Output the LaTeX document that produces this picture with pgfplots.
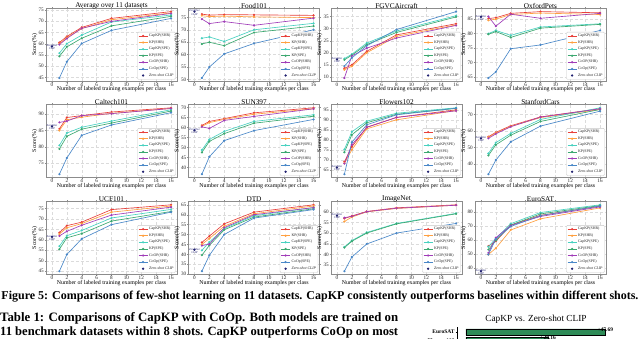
\documentclass[border=0pt]{standalone}
\usepackage{fontspec}
\setmainfont{Liberation Serif}
\usepackage{pgfplots}
\pgfplotsset{compat=1.18}
\usepackage{pgfplotstable}
\usepackage{graphicx}

\definecolor{c1}{HTML}{E8403A}
\definecolor{c2}{HTML}{FFA040}
\definecolor{c3}{HTML}{48D1C0}
\definecolor{c4}{HTML}{3CA870}
\definecolor{c5}{HTML}{A03CB8}
\definecolor{c6}{HTML}{4A88C8}
\definecolor{zsc}{HTML}{202070}
\definecolor{barg}{HTML}{2E8B57}

% x s1=CapKP(SHR) s2=KP(SHR) s3=CapKP(SPE) s4=KP(SPE) s5=CoOP(SHR) s6=CoOp(SPE)
\pgfplotstableread{
x s1 s2 s3 s4 s5 s6
1 60.5 60.0 55.8 54.4 59.6 44.8
2 63.2 62.7 60.0 58.6 62.3 52.0
4 67.2 66.7 63.8 62.4 66.8 60.1
8 71.2 70.6 69.6 67.9 69.9 65.9
16 74.2 73.6 72.7 72.1 73.4 71.2
}\tAvg
\pgfplotstableread{
x s1 s2 s3 s4 s5 s6
1 76.3 75.7 66.6 64.3 74.3 50.6
2 75.9 75.3 67.1 65.0 72.5 55.0
4 76.1 75.5 65.3 63.6 73.3 60.3
8 76.0 75.2 70.0 68.9 71.8 64.5
16 75.8 74.9 72.6 71.5 74.7 70.0
}\tFood
\pgfplotstableread{
x s1 s2 s3 s4 s5 s6
1 13.6 13.0 17.6 17.1 9.6 14.5
2 15.0 14.4 19.4 19.0 18.7 17.9
4 20.6 20.0 24.0 23.4 21.9 22.9
8 27.4 26.8 29.0 28.4 26.1 29.6
16 32.0 31.5 35.3 34.8 31.3 37.0
}\tAir
\pgfplotstableread{
x s1 s2 s3 s4 s5 s6
1 85.2 84.6 80.0 79.8 85.9 64.7
2 85.5 85.0 81.1 80.7 82.6 66.8
4 87.0 86.6 79.4 78.7 86.7 74.8
8 87.6 87.1 82.3 81.9 85.3 76.1
16 87.2 86.6 83.4 83.2 87.0 81.1
}\tPets
\pgfplotstableread{
x s1 s2 s3 s4 s5 s6
1 85.5 85.0 80.4 79.3 87.5 71.5
2 89.0 88.3 84.2 83.2 87.9 76.5
4 89.6 89.1 86.0 85.4 89.6 83.5
8 90.7 90.3 87.9 87.3 90.2 86.7
16 92.0 91.8 91.4 91.0 91.8 90.5
}\tCal
\pgfplotstableread{
x s1 s2 s3 s4 s5 s6
1 61.0 60.5 48.7 47.5 60.3 36.6
2 63.0 62.4 54.0 53.0 59.5 45.3
4 64.4 64.0 58.0 56.9 63.5 53.4
8 67.3 66.6 63.0 62.1 65.5 58.4
16 69.8 69.3 66.3 65.6 69.3 64.0
}\tSun
\pgfplotstableread{
x s1 s2 s3 s4 s5 s6
1 69.0 68.3 75.2 73.8 68.1 62.8
2 76.5 75.0 84.0 82.5 77.5 78.8
4 86.3 85.5 89.3 88.5 86.2 87.5
8 91.2 90.0 93.3 92.8 91.2 92.5
16 95.0 94.6 96.0 95.7 94.5 95.8
}\tFlo
\pgfplotstableread{
x s1 s2 s3 s4 s5 s6
1 56.6 56.2 46.5 45.3 55.6 34.0
2 59.2 58.7 53.0 51.7 58.3 42.5
4 63.2 62.8 58.6 57.5 62.6 53.5
8 68.5 68.1 67.0 65.8 68.4 63.0
16 73.5 73.0 74.0 73.0 73.4 72.0
}\tCar
\pgfplotstableread{
x s1 s2 s3 s4 s5 s6
1 63.5 62.8 57.0 55.5 61.9 45.0
2 66.8 65.8 62.0 61.0 64.1 53.0
4 68.5 67.8 64.5 63.0 67.0 60.5
8 74.5 73.3 70.5 69.0 71.9 67.3
16 76.8 76.2 74.6 73.6 75.7 73.3
}\tUcf
\pgfplotstableread{
x s1 s2 s3 s4 s5 s6
1 46.0 45.0 42.0 39.6 44.4 31.5
2 49.2 48.0 46.2 44.5 45.2 39.5
4 55.4 54.2 53.0 52.4 53.5 50.0
8 61.3 60.5 59.5 58.8 60.0 58.3
16 65.0 64.4 63.6 63.0 63.6 62.6
}\tDtd
\pgfplotstableread{
x s1 s2 s3 s4 s5 s6
1 56.8 55.4 43.5 43.2 57.2 32.2
2 58.0 57.5 46.5 46.2 57.8 38.8
4 60.1 59.9 50.3 50.0 60.0 44.9
8 61.8 61.5 54.5 54.3 61.6 50.0
16 63.2 63.0 59.2 59.0 63.0 54.5
}\tImn
\pgfplotstableread{
x s1 s2 s3 s4 s5 s6
1 55.5 49.5 55.0 53.0 50.6 49.5
2 59.0 54.0 61.0 59.5 61.5 60.5
4 70.5 67.0 71.5 70.5 70.2 69.5
8 77.5 75.0 79.5 78.5 76.7 77.3
16 84.0 82.8 85.0 84.5 83.5 84.2
}\tEur

\pgfplotsset{
  panel/.style={
    scale only axis, width=131bp, height=73bp, anchor=north west,
    xmin=-0.8, xmax=16.8, xtick={0,2,...,16}, enlarge y limits=0.05,
    clip=false,
    /pgf/number format/assume math mode=true,
    ticklabel style={font=\fontsize{5.2}{5.2}\selectfont, text=black!85},
    xticklabel style={inner sep=0.5bp},
    yticklabel style={inner sep=0.8bp},
    xlabel={Number of labeled training examples per class},
    ylabel={Score(\%)},
    label style={font=\fontsize{5.9}{5.9}\selectfont},
    xlabel style={inner sep=0pt, yshift=0.6bp},
    ylabel style={inner sep=0.3bp},
    every axis title shift=0pt,
    title style={font=\fontsize{7.3}{7.3}\selectfont, at={(0.5,1)}, anchor=south, inner sep=0pt, yshift=-0.5bp},
    axis line style={black!45, line width=0.4bp},
    grid=major, grid style={densely dashed, black!14, line width=0.3bp},
    tick align=outside, major tick length=1.2bp, tick style={black!45, line width=0.3bp},
    every axis plot/.append style={line width=0.65bp, mark size=0.75bp},
    legend style={font=\fontsize{3.9}{3.9}\selectfont, at={(0.99,0.025)}, anchor=south east,
      draw=black!22, fill=white, rounded corners=1bp, inner xsep=0.8bp, inner ysep=0.5bp,
      row sep=0bp, nodes={inner sep=1.2bp, text=black!85}},
    legend cell align=left,
    legend image code/.code={\draw[mark repeat=2,mark phase=2] plot coordinates {(0bp,0bp)(4.5bp,0bp)(9bp,0bp)};},
  },
  s1/.style={color=c1, mark=*},
  s2/.style={color=c2, mark=*},
  s3/.style={color=c3, mark=*},
  s4/.style={color=c4, mark=*},
  s5/.style={color=c5, mark=*},
  s6/.style={color=c6, mark=*},
  zsm/.style={only marks, mark=*, color=zsc, mark size=0.8bp},
}
\tikzset{zslab/.style={font=\itshape\fontsize{2.9}{3.1}\selectfont, text=zsc, align=center, anchor=north, yshift=1.9bp, inner sep=0pt}}

\newcommand{\panel}[7]{%
\begin{axis}[panel, at={(#4bp,-#5bp)}, title={#3}, ytick={#7}, #6]
\addplot[s1] table[x=x,y=s1]{#1};
\addplot[s2] table[x=x,y=s2]{#1};
\addplot[s3] table[x=x,y=s3]{#1};
\addplot[s4] table[x=x,y=s4]{#1};
\addplot[s5] table[x=x,y=s5]{#1};
\addplot[s6] table[x=x,y=s6]{#1};
\addplot[zsm] coordinates {(0,#2)};
\node[zslab] at (axis cs:0,#2) {ZeroShot\\CLIP};
\legend{CapKP(SHR),KP(SHR),CapKP(SPE),KP(SPE),CoOP(SHR),CoOp(SPE),\textit{Zero-shot CLIP}}
\end{axis}}

\begin{document}
\begin{tikzpicture}
\useasboundingbox (0,0) rectangle (640bp,-339bp);
\panel{\tAvg}{58.77}{Average over 11 datasets}{46}{8.3}{}{45,50,...,75}
\panel{\tFood}{77.31}{Food101}{188.5}{8.3}{}{50,55,...,75}
\panel{\tAir}{17.28}{FGVCAircraft}{331}{8.3}{}{10,15,...,35}
\panel{\tPets}{85.77}{OxfordPets}{475}{8.3}{}{65,70,...,85}
\panel{\tCal}{86.29}{Caltech101}{46}{104.5}{}{75,80,...,90}
\panel{\tSun}{58.52}{SUN397}{188.5}{104.5}{}{40,45,...,70}
\panel{\tFlo}{66.14}{Flowers102}{331}{104.5}{}{65,70,...,95}
\panel{\tCar}{55.61}{StanfordCars}{475}{104.5}{}{40,50,...,70}
\panel{\tUcf}{61.46}{UCF101}{46}{201.5}{}{45,50,...,75}
\panel{\tDtd}{42.32}{DTD}{188.5}{201.5}{}{30,35,...,65}
\panel{\tImn}{58.18}{ImageNet}{331}{201.5}{}{35,40,...,60}
\panel{\tEur}{37.56}{EuroSAT}{475}{201.5}{}{40,50,...,80}

\node[anchor=center, inner sep=0] at (320bp,-297bp) {\resizebox{637bp}{!}{\bfseries Figure 5: Comparisons of few-shot learning on 11 datasets. CapKP consistently outperforms baselines within different shots.}};
\node[anchor=west, inner sep=0] at (0bp,-318bp) {\resizebox{398bp}{!}{\bfseries Table 1: Comparisons of CapKP with CoOp. Both models are trained on}};
\node[anchor=west, inner sep=0] at (0bp,-332bp) {\resizebox{398bp}{!}{\bfseries 11 benchmark datasets within 8 shots. CapKP outperforms CoOp on most}};
\node[anchor=base, inner sep=0, font=\fontsize{9.3}{9.3}\selectfont] at (536bp,-321bp) {CapKP vs. Zero-shot CLIP};

\begin{axis}[at={(457bp,-327bp)}, anchor=north west, scale only axis, width=158bp, height=18.7bp,
  xbar, bar width=6.5bp, xmin=-3, xmax=51, ymin=-0.6, ymax=1.6, y dir=reverse,
  axis x line=none, axis y line*=left, clip=false,
  ytick={0,1}, yticklabels={EuroSAT,Flowers102},
  yticklabel style={font=\bfseries\fontsize{5.5}{6}\selectfont, inner sep=0.8bp},
  tick align=outside, major tick length=1.5bp, ytick style={black, line width=0.3bp},
  axis line style={black, line width=0.3bp},
  point meta=explicit symbolic, nodes near coords,
  nodes near coords style={font=\bfseries\fontsize{5.5}{6}\selectfont, inner sep=0.5bp}]
\addplot[fill=barg, draw=black, line width=0.3bp] coordinates {(47.69,0) [+47.69] (28.16,1) [+28.16]};
\end{axis}
\end{tikzpicture}
\end{document}
